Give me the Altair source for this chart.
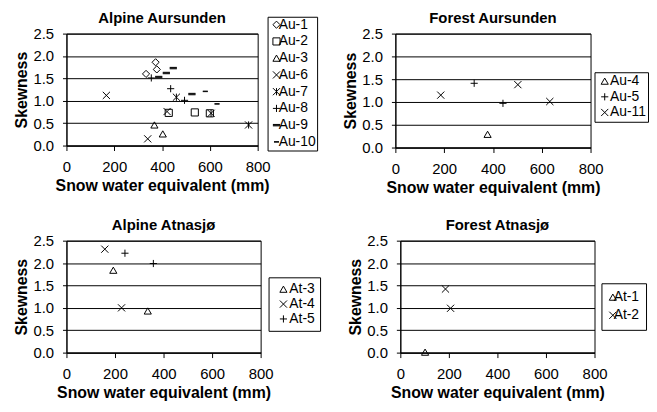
import altair as alt
import pandas as pd

FONT = "Liberation Sans"

# ---------------- data ----------------
# Alpine Aursunden
aa_order = ["Au-1", "Au-2", "Au-3", "Au-6", "Au-7", "Au-8", "Au-9", "Au-10"]
aa_series = ["Au-1", "Au-1", "Au-1",
             "Au-2", "Au-2", "Au-2",
             "Au-3", "Au-3",
             "Au-6", "Au-6", "Au-6",
             "Au-7", "Au-7", "Au-7",
             "Au-8", "Au-8", "Au-8",
             "Au-9", "Au-9", "Au-9", "Au-9",
             "Au-10", "Au-10"]
aa_swe = [333, 373, 378,
          428, 537, 600,
          368, 403,
          167, 340, 421,
          460, 762, 605,
          355, 436, 494,
          386, 418, 447, 525,
          581, 630]
aa_skew = [1.60, 1.86, 1.70,
           0.73, 0.74, 0.72,
           0.46, 0.26,
           1.12, 0.15, 0.76,
           1.08, 0.46, 0.72,
           1.51, 1.27, 1.01,
           1.53, 1.62, 1.73, 1.15,
           1.21, 0.93]

# Forest Aursunden
fa_order = ["Au-4", "Au-5", "Au-11"]
fa_series = ["Au-4", "Au-5", "Au-5", "Au-11", "Au-11", "Au-11"]
fa_swe = [378, 323, 441, 186, 502, 633]
fa_skew = [0.29, 1.41, 0.97, 1.15, 1.38, 1.01]

# Alpine Atnasjø
la_order = ["At-3", "At-4", "At-5"]
la_series = ["At-3", "At-3", "At-4", "At-4", "At-5", "At-5"]
la_swe = [193, 335, 158, 227, 241, 358]
la_skew = [1.84, 0.93, 2.31, 1.00, 2.22, 1.99]

# Forest Atnasjø
ft_order = ["At-1", "At-2"]
ft_series = ["At-1", "At-2", "At-2"]
ft_swe = [102, 186, 207]
ft_skew = [0.01, 1.42, 0.99]

x_ticks = [0, 200, 400, 600, 800]
y_ticks = [0.0, 0.5, 1.0, 1.5, 2.0, 2.5]

# ---------------- marker shapes ----------------
DIAMOND = "diamond"
SQUARE = "square"
TRIANGLE = "triangle-up"
XMARK = "M-1,-1L1,1M-1,1L1,-1"
ASTER = "M-1,-1L1,1M-1,1L1,-1M0,-1L0,1"
PLUS = "M-1,0L1,0M0,-1L0,1"
THICKDASH = "M-1,-0.2L1,-0.2M-1,0L1,0M-1,0.2L1,0.2"
THINDASH = "M-0.7,-0.07L0.7,-0.07M-0.7,0.07L0.7,0.07"

shape_map = {
    "Au-1": DIAMOND, "Au-2": SQUARE, "Au-3": TRIANGLE, "Au-6": XMARK,
    "Au-7": ASTER, "Au-8": PLUS, "Au-9": THICKDASH, "Au-10": THINDASH,
    "Au-4": TRIANGLE, "Au-5": PLUS, "Au-11": XMARK,
    "At-3": TRIANGLE, "At-4": XMARK, "At-5": PLUS,
    "At-1": TRIANGLE, "At-2": XMARK,
}

MSIZE = 52


def panel(title, series, swe, skew, order, width, height,
          lx, ly, lpad, lrow, soff, loff):
    df = pd.DataFrame({"series": series, "swe": swe, "skew": skew})
    pts = alt.Chart(df).mark_point(
        filled=False, color="black", strokeWidth=1, size=MSIZE, opacity=1
    ).encode(
        x=alt.X("swe:Q", title="Snow water equivalent (mm)",
                scale=alt.Scale(domain=[0, 800], nice=False),
                axis=alt.Axis(values=x_ticks, grid=False)),
        y=alt.Y("skew:Q", title="Skewness",
                scale=alt.Scale(domain=[0, 2.5], nice=False),
                axis=alt.Axis(values=y_ticks, format=".1f", grid=True)),
        shape=alt.Shape("series:N", sort=order,
                        scale=alt.Scale(domain=order,
                                        range=[shape_map[s] for s in order]),
                        legend=alt.Legend(
                            title=None, orient="none",
                            legendX=lx, legendY=ly,
                            padding=lpad, rowPadding=lrow,
                            symbolOffset={"expr": str(soff)},
                            labelOffset={"expr": str(loff)})),
    )
    ttl = alt.Chart(pd.DataFrame({"t": [title]})).mark_text(
        font=FONT, fontSize=15, fontWeight="bold", color="black",
        align="center", baseline="alphabetic"
    ).encode(
        x=alt.value(width / 2), y=alt.value(-11), text="t:N"
    )
    return alt.layer(pts, ttl).properties(width=width, height=height)


p1 = panel("Alpine Aursunden", aa_series, aa_swe, aa_skew, aa_order, 193, 113,
           203, -17, 1, 2.9, 1, -4.8)
p2 = panel("Forest Aursunden", fa_series, fa_swe, fa_skew, fa_order, 197, 115,
           201, 39, 2, 1.8, 1.3, -1.7)
p3 = panel("Alpine Atnasjø", la_series, la_swe, la_skew, la_order, 196, 113,
           204, 37, 5, 1, 3, -1)
p4 = panel("Forest Atnasjø", ft_series, ft_swe, ft_skew, ft_order, 196, 113,
           203, 43, 7, 4.3, -2.5, -6.2)

row1 = alt.hconcat(p1, p2, spacing=24).resolve_scale(shape="independent")
row2 = alt.hconcat(p3, p4, spacing=26).resolve_scale(shape="independent")

chart = alt.vconcat(row1, row2, spacing=21).resolve_scale(
    shape="independent"
).configure(
    font=FONT,
    padding={"left": 5, "top": 0, "right": 0, "bottom": 0},
).configure_view(
    stroke="black", strokeWidth=1
).configure_axis(
    labelFont=FONT, titleFont=FONT,
    labelFontSize=15, labelColor="black",
    titleFontSize=16, titleFontWeight="bold", titleColor="black",
    domainColor="black", tickColor="black",
    gridColor="black", gridWidth=1, gridOpacity=1,
    labelFlush=False,
).configure_axisX(
    tickSize=5, labelPadding=9, titlePadding=3,
).configure_axisY(
    tickSize=4, labelPadding=9, titlePadding=3,
).configure_legend(
    labelFont=FONT, labelFontSize=14, labelColor="black",
    strokeColor="black", fillColor="white",
    symbolStrokeColor="black", symbolStrokeWidth=1, symbolSize=MSIZE,
)

chart.save("out.html", embed_options={"renderer": "svg", "actions": False})
